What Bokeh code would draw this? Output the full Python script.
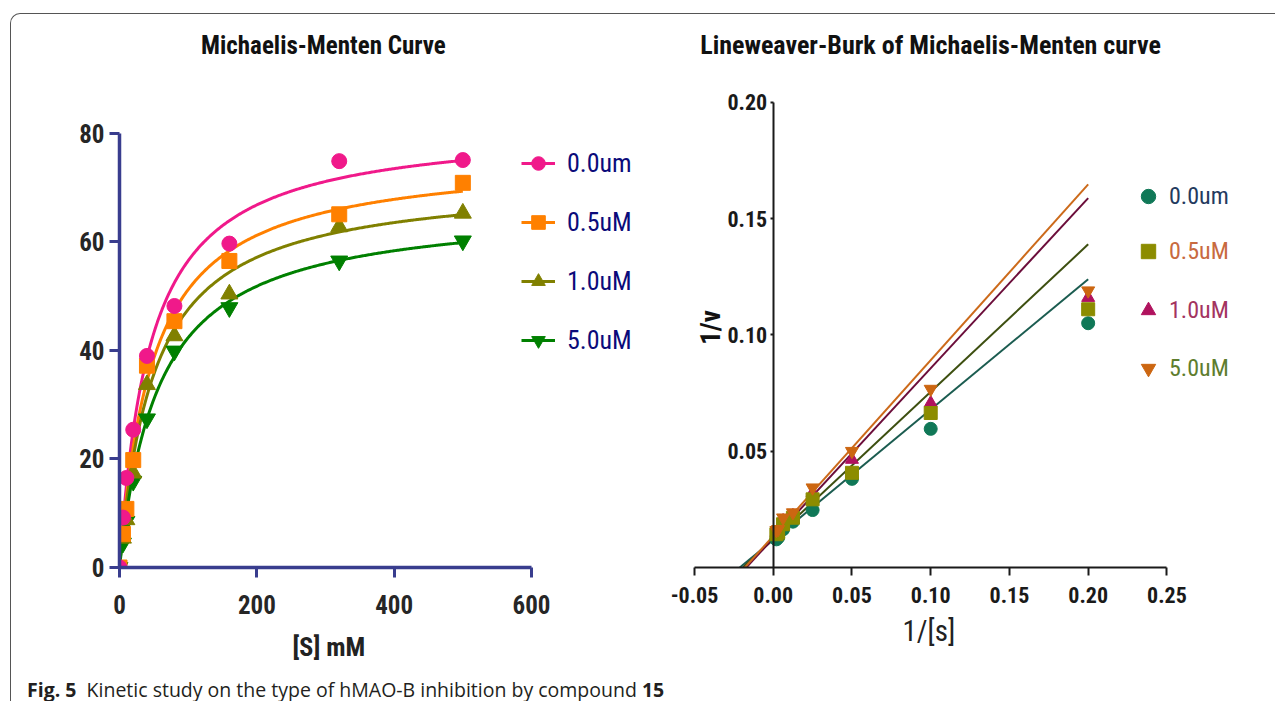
import numpy as np
from bokeh.plotting import figure
from bokeh.models import (Range1d, FixedTicker, Label, Legend, LegendItem, Div, Title,
                          InlineStyleSheet, PrintfTickFormatter)
from bokeh.layouts import row, column
from bokeh.embed import file_html
from bokeh.resources import INLINE

# ---------------- data ----------------
series_names = ["0.0um", "0.5uM", "1.0uM", "5.0uM"]

substrate_mM = [0, 5, 10, 20, 40, 80, 160, 320, 500]
v_0_0 = [0, 9.2, 16.5, 25.4, 39.0, 48.2, 59.7, 74.9, 75.1]
v_0_5 = [0, 6.2, 10.8, 19.8, 37.2, 45.4, 56.5, 65.1, 70.9]
v_1_0 = [0, 5.4, 8.8, 17.4, 33.7, 42.7, 50.4, 62.8, 65.3]
v_5_0 = [0, 4.5, 8.5, 15.9, 27.4, 39.9, 47.9, 56.5, 60.2]
# fitted Michaelis-Menten parameters (estimated from the drawn curves)
vmax_fit = [81.7, 76.1, 71.6, 66.8]
km_fit = [44.5, 48.6, 50.5, 57.7]

inv_substrate = [0.2, 0.1, 0.05, 0.025, 0.0125, 0.00625, 0.003125, 0.002]
inv_v_0_0 = [0.105, 0.0596, 0.0381, 0.0247, 0.0197, 0.0164, 0.0129, 0.0121]
inv_v_0_5 = [0.111, 0.0664, 0.0407, 0.0293, 0.0214, 0.0186, 0.0150, 0.0143]
inv_v_1_0 = [0.116, 0.0707, 0.0464, 0.0321, 0.0222, 0.0200, 0.0157, 0.0150]
inv_v_5_0 = [0.119, 0.0767, 0.0500, 0.0343, 0.0236, 0.0214, 0.0164, 0.0160]
# fitted Lineweaver-Burk lines (estimated from the drawn lines)
lb_intercept = [0.0119, 0.0122, 0.0125, 0.0136]
lb_slope = [0.560, 0.6335, 0.7315, 0.7555]
lb_x_end = 0.2

left_x_ticks = [0, 200, 400, 600]
left_y_ticks = [0, 20, 40, 60, 80]
right_x_ticks = [-0.05, 0.0, 0.05, 0.10, 0.15, 0.20, 0.25]
right_y_ticks = [0.05, 0.10, 0.15, 0.20]

left_title = "Michaelis-Menten Curve"
right_title = "Lineweaver-Burk of Michaelis-Menten curve"
left_xlabel = "[S] mM"
right_xlabel = "1/[s]"
right_ylabel = "1/v"

# ---------------- styling ----------------
FN = "Roboto Condensed"
AX_L = "#393d8e"
left_colors = ["#f0198a", "#ff8000", "#808000", "#008000"]
left_markers = ["circle", "square", "triangle", "inverted_triangle"]
left_sizes = [15, 15, 17, 17]

right_marker_colors = ["#107857", "#8c8c00", "#b0125e", "#cc6611"]
right_line_colors = ["#1b5c50", "#3d4f10", "#6b0d3a", "#cc6a1a"]
right_label_colors = ["#243a5e", "#c86a40", "#a3345f", "#5e7d2e"]
right_markers = ["circle", "square", "triangle", "inverted_triangle"]


def base_fig(**kw):
    p = figure(output_backend="svg", toolbar_location=None, **kw)
    p.xgrid.visible = False
    p.ygrid.visible = False
    p.outline_line_color = None
    p.background_fill_color = "white"
    p.border_fill_color = "white"
    return p


# ---------------- left chart ----------------
# y: 0 -> 567px, 80 -> 133px ; x: 0 -> 119px, 600 -> 531px
left = base_fig(frame_width=515, frame_height=542,
                min_border_left=119, min_border_right=0,
                min_border_top=25, min_border_bottom=122,
                x_range=Range1d(0, 750.0), y_range=Range1d(0, 99.9))

for ax, ticks, bnds in ((left.xaxis, left_x_ticks, (0, 600)), (left.yaxis, left_y_ticks, (0, 80))):
    ax.bounds = bnds
    ax.ticker = FixedTicker(ticks=ticks)
    ax.minor_tick_line_color = None
    ax.axis_line_color = AX_L
    ax.axis_line_width = 3.5
    ax.major_tick_line_color = AX_L
    ax.major_tick_line_width = 3
    ax.major_tick_out = 10
    ax.major_tick_in = 0
    ax.major_label_text_font = FN
    ax.major_label_text_font_style = "bold"
    ax.major_label_text_font_size = "25px"
    ax.major_label_text_color = "#262626"
left.xaxis.major_label_standoff = 17
left.yaxis.major_label_standoff = 5
left.add_layout(Title(text=left_xlabel, align="left", offset=173, standoff=27,
                      text_font=FN, text_font_style="bold", text_font_size="26px",
                      text_color="#222222"), "below")

fit_x = np.linspace(0, 500, 300)
left_series = [v_0_0, v_0_5, v_1_0, v_5_0]
line_r = []
for i in range(4):
    fit_y = vmax_fit[i] * fit_x / (km_fit[i] + fit_x)
    line_r.append(left.line(fit_x, fit_y, line_color=left_colors[i], line_width=3))
mark_r = [None] * 4
for i in reversed(range(4)):
    mark_r[i] = left.scatter(substrate_mM, left_series[i], marker=left_markers[i],
                             size=left_sizes[i], fill_color=left_colors[i],
                             line_color=left_colors[i])

leg_l = Legend(items=[LegendItem(label=series_names[i], renderers=[line_r[i], mark_r[i]])
                      for i in range(4)],
               location=(402, 209), orientation="vertical",
               glyph_width=34, glyph_height=36, label_height=36, spacing=23,
               padding=0, margin=0, label_standoff=12,
               border_line_color=None, background_fill_alpha=0,
               label_text_font=FN, label_text_font_size="26px",
               label_text_color="#0b0b7a", label_text_baseline="middle")
left.add_layout(leg_l)

left.add_layout(Label(x=297, y=96.2, text=left_title, text_align="center",
                      text_baseline="middle", text_font=FN,
                      text_font_style="bold", text_font_size="25px", text_color="#111111"))

# ---------------- right chart ----------------
# y: 0 -> 567px, 0.2 -> 101.7px ; x: -0.05 -> 694px, 0.25 -> 1166px
right = base_fig(frame_width=590, frame_height=542,
                 min_border_left=46, min_border_right=5,
                 min_border_top=25, min_border_bottom=122,
                 x_range=Range1d(-0.05889, 0.31578), y_range=Range1d(0, 0.23297))

for ax, ticks in ((right.xaxis, right_x_ticks), (right.yaxis, right_y_ticks)):
    ax.ticker = FixedTicker(ticks=ticks)
    ax.formatter = PrintfTickFormatter(format="%.2f")
    ax.minor_tick_line_color = None
    ax.axis_line_color = "#1a1a1a"
    ax.axis_line_width = 2
    ax.major_tick_line_color = "#1a1a1a"
    ax.major_tick_line_width = 2
    ax.major_tick_in = 0
    ax.major_label_text_font = FN
    ax.major_label_text_font_style = "bold"
    ax.major_label_text_font_size = "22px"
    ax.major_label_text_color = "#1a1a1a"
right.yaxis.fixed_location = 0
right.yaxis.bounds = (0, 0.2)
right.xaxis.bounds = (-0.05, 0.25)
right.xaxis.major_tick_out = 8
right.xaxis.major_label_standoff = 11
right.yaxis.major_tick_out = 3
right.yaxis.major_label_standoff = 3
right.add_layout(Title(text=right_xlabel, align="left", offset=222, standoff=12,
                       text_font=FN, text_font_style="normal", text_font_size="29px",
                       text_color="#222222"), "below")

right_series = [inv_v_0_0, inv_v_0_5, inv_v_1_0, inv_v_5_0]
for i in range(4):
    x0 = -lb_intercept[i] / lb_slope[i]
    right.line([x0, lb_x_end], [0, lb_intercept[i] + lb_slope[i] * lb_x_end],
               line_color=right_line_colors[i], line_width=2)
rmark = [None] * 4
for i in [0, 2, 1, 3]:
    rmark[i] = right.scatter(inv_substrate, right_series[i], marker=right_markers[i],
                             size=13, fill_color=right_marker_colors[i],
                             line_color=right_marker_colors[i])

row_centers = [196, 251, 310, 368]
for i in range(4):
    vy = 567 - (row_centers[i] + 18)
    lg = Legend(items=[LegendItem(label=series_names[i], renderers=[rmark[i]])],
                location=(450, vy), glyph_width=36, glyph_height=36, label_height=36,
                padding=0, margin=0, label_standoff=3,
                border_line_color=None, background_fill_alpha=0,
                label_text_font=FN, label_text_font_size="24px",
                label_text_color=right_label_colors[i], label_text_baseline="middle")
    right.add_layout(lg)

right.add_layout(Label(x=0.0999, y=0.2244, text=right_title, text_align="center",
                       text_baseline="middle", text_font=FN,
                       text_font_style="bold", text_font_size="26px", text_color="#111111"))
right.add_layout(Label(x=-0.0398, y=0.1032, text=right_ylabel, text_align="center",
                       text_baseline="middle", text_font=FN,
                       text_font_style="bold", angle=np.pi / 2, text_font_size="27px",
                       text_color="#111111"))

# ---------------- caption and frame ----------------
cap = Div(text='<div style="position:relative; top:-13px; left:27px; line-height:24px; white-space:nowrap;">'
               '<b>Fig. 5</b>&nbsp; Kinetic study on the type of hMAO-B inhibition by compound <b>15</b></div>',
          width=1275, height=12, margin=(0, 0, 0, 0),
          styles={"font-family": "'Open Sans', 'Noto Sans', sans-serif", "font-size": "19.5px",
                  "color": "#231f20"})

css = InlineStyleSheet(css=":host { position: relative; } "
                           ":host::after { content: ''; position: absolute; left: 10px; top: 13px; "
                           "right: 0; bottom: 0; border-top: 1.5px solid #555555; "
                           "border-left: 1.5px solid #555555; border-top-left-radius: 10px; "
                           "pointer-events: none; }")

layout = column(row(left, right), cap, stylesheets=[css])

open("out.html", "w").write(file_html(layout, INLINE))
